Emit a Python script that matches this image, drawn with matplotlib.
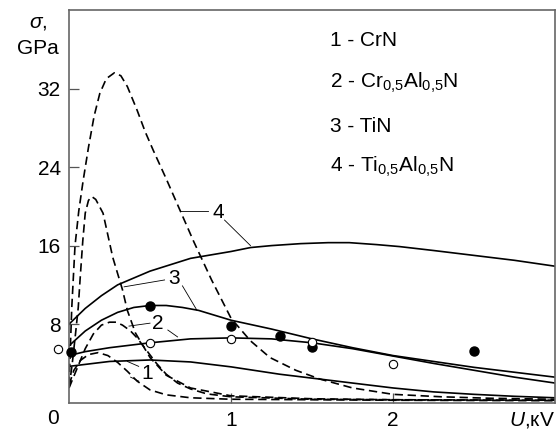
import numpy as np
import matplotlib
matplotlib.use('Agg')
import matplotlib.pyplot as plt

plt.rcParams['font.family'] = ['Liberation Sans', 'DejaVu Sans']
plt.rcParams['mathtext.fontset'] = 'custom'
plt.rcParams['mathtext.rm'] = 'Liberation Sans'
plt.rcParams['mathtext.it'] = 'Liberation Sans:italic'

# solid curves (sigma vs U)
s1_u = [0, 0.25, 0.5, 0.75, 1.0, 1.3, 1.5, 1.75, 2.0, 2.25, 2.5, 2.75, 3.0]
s1_s = [3.7, 4.2, 4.35, 4.15, 3.65, 2.9, 2.5, 2.0, 1.5, 1.1, 0.85, 0.65, 0.5]
s2_u = [0, 0.1, 0.25, 0.5, 0.75, 1.0, 1.25, 1.5, 1.75, 2.0, 2.25, 2.5, 2.75, 3.0]
s2_s = [4.8, 5.2, 5.6, 6.1, 6.5, 6.6, 6.5, 6.1, 5.5, 4.75, 4.0, 3.3, 2.6, 2.0]
s3_u = [0, 0.1, 0.2, 0.3, 0.4, 0.5, 0.6, 0.7, 0.8, 1.0, 1.25, 1.5, 1.75, 2.0, 2.25, 2.5, 2.75, 3.0]
s3_s = [5.8, 7.3, 8.4, 9.2, 9.7, 9.9, 9.9, 9.7, 9.4, 8.4, 7.5, 6.5, 5.6, 4.8, 4.2, 3.6, 3.1, 2.6]
s4_u = [0, 0.1, 0.2, 0.3, 0.5, 0.75, 1.0, 1.12, 1.25, 1.43, 1.6, 1.73, 1.9, 2.04, 2.25, 2.5, 2.75, 3.0]
s4_s = [8.0, 9.6, 10.9, 12.0, 13.4, 14.7, 15.4, 15.8, 16.0, 16.2, 16.3, 16.3, 16.1, 15.9, 15.5, 15.0, 14.5, 13.9]

# dashed curves
d1_u = [0, 0.03, 0.07, 0.12, 0.18, 0.24, 0.3, 0.36, 0.42, 0.5, 0.6, 0.75, 1.0, 1.5, 2.0, 3.0]
d1_s = [1.8, 3.3, 4.3, 4.9, 5.1, 4.8, 4.1, 3.2, 2.2, 1.3, 0.8, 0.5, 0.35, 0.3, 0.25, 0.2]
d2_u = [0, 0.05, 0.1, 0.15, 0.2, 0.25, 0.29, 0.33, 0.38, 0.42, 0.48, 0.54, 0.6, 0.67, 0.75, 0.85, 1.0, 1.5, 2.0, 3.0]
d2_s = [1.5, 3.5, 5.5, 7.0, 7.9, 8.2, 8.2, 7.9, 7.3, 6.6, 5.3, 4.0, 2.9, 2.0, 1.4, 0.9, 0.6, 0.35, 0.3, 0.25]
d3_u = [0, 0.02, 0.04, 0.057, 0.068, 0.085, 0.1, 0.12, 0.14, 0.165, 0.21, 0.27, 0.33, 0.36, 0.41, 0.5, 0.6, 0.75, 1.0, 1.5, 2.0, 3.0]
d3_s = [1.5, 4.0, 7.0, 9.7, 12.5, 16.5, 19.3, 20.6, 21.0, 20.7, 19.3, 14.8, 11.5, 9.4, 7.1, 4.6, 2.8, 1.5, 0.7, 0.4, 0.3, 0.25]
d4_u = [0, 0.017, 0.037, 0.06, 0.087, 0.12, 0.155, 0.19, 0.23, 0.28, 0.32, 0.36, 0.42, 0.47, 0.52, 0.6, 0.685, 0.77, 0.88,
        1.0, 1.12, 1.24, 1.4, 1.55, 1.75, 2.0, 2.3, 2.6, 3.0]
d4_s = [1.8, 9.7, 16.0, 19.5, 22.6, 26.0, 29.2, 31.5, 33.0, 33.6, 33.3, 32.2, 29.8, 27.6, 25.7, 22.8, 19.6, 16.4, 12.5,
        8.6, 6.3, 4.6, 3.3, 2.4, 1.5, 0.85, 0.6, 0.45, 0.35]

# experimental points
filled_u = [0.01, 0.5, 1.0, 1.3, 1.5, 2.5]
filled_s = [5.2, 9.8, 7.8, 6.8, 5.7, 5.3]
open_u = [-0.07, 0.5, 1.0, 1.5, 2.0]
open_s = [5.5, 6.1, 6.5, 6.2, 3.9]

legend_lines = ['1 - CrN',
                '2 - Cr$_{0{,}5}$Al$_{0{,}5}$N',
                '3 - TiN',
                '4 - Ti$_{0{,}5}$Al$_{0{,}5}$N']

fs = 15


def main():
    fig = plt.figure(figsize=(5.58, 4.33), dpi=100)
    ax = fig.add_axes([0.1237, 0.070, 0.871, 0.907])
    lw = 1.2
    dash = (0, (5, 2.8))
    for u, s in [(s1_u, s1_s), (s2_u, s2_s), (s3_u, s3_s), (s4_u, s4_s)]:
        ax.plot(u, s, '-', color='black', lw=lw)
    for u, s in [(d1_u, d1_s), (d2_u, d2_s), (d3_u, d3_s), (d4_u, d4_s)]:
        ax.plot(u, s, color='black', lw=lw, linestyle=dash)
    ax.plot(filled_u, filled_s, 'o', color='black', ms=6.5, clip_on=False, zorder=5)
    ax.plot(open_u, open_s, 'o', mfc='white', mec='black', mew=0.8, ms=6, clip_on=False, zorder=5)

    ax.set_xlim(0, 3)
    ax.set_ylim(0, 40)
    ax.set_xticks([1, 2])
    ax.set_yticks([8, 16, 24, 32])
    ax.tick_params(direction='in', length=7, width=0.9, labelsize=fs, color='#555555', pad=6)
    ax.tick_params(axis='x', pad=6)
    for sp in ax.spines.values():
        sp.set_color('#666666')
        sp.set_linewidth(1.2)

    # curve numbers with leader lines
    lc = dict(color='black', lw=0.6)
    ax.text(0.92, 19.4, '4', fontsize=fs, ha='center', va='center')
    ax.plot([0.685, 0.86], [19.5, 19.5], **lc)
    ax.plot([0.96, 1.12], [18.6, 16.0], **lc)
    ax.text(0.65, 12.6, '3', fontsize=fs, ha='center', va='center')
    ax.plot([0.34, 0.59], [11.8, 12.5], **lc)
    ax.plot([0.70, 0.79], [11.9, 9.4], **lc)
    ax.text(0.55, 8.1, '2', fontsize=fs, ha='center', va='center')
    ax.plot([0.37, 0.50], [7.8, 8.1], **lc)
    ax.plot([0.61, 0.67], [7.4, 6.7], **lc)
    ax.text(0.48, 3.0, '1', fontsize=fs, ha='center', va='center')
    ax.plot([0.36, 0.43], [4.2, 3.7], **lc)
    ax.plot([0.38, 0.43], [2.6, 2.2], **lc)

    # legend text
    ys = [40, 83, 126, 167]
    for t, y in zip(legend_lines, ys):
        fig.text(330 / 558., 1 - y / 433., t, fontsize=fs, va='center', ha='left')

    fig.text(38 / 558., 1 - 22 / 433., r'$\sigma$,', fontsize=fs, ha='center', va='center')
    fig.text(38 / 558., 1 - 48 / 433., 'GPa', fontsize=fs, ha='center', va='center')
    fig.text(53 / 558., 1 - 419 / 433., '0', fontsize=fs, ha='center', va='center')
    fig.text(555 / 558., 1 - 420 / 433., r'$U$,кV', fontsize=fs, ha='right', va='center')

    plt.savefig('out.png', dpi=100)


if __name__ == "__main__":
    main()
